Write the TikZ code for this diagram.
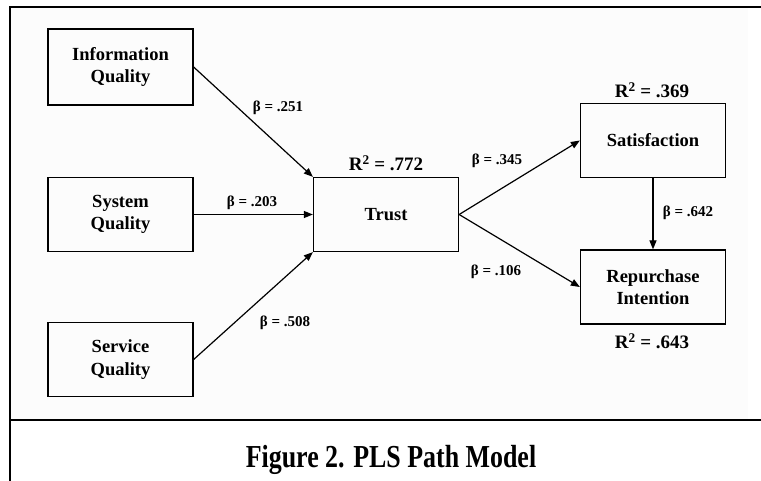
\documentclass[tikz,border=0pt]{standalone}
\usepackage{fontspec}
\setmainfont{Liberation Serif}
\usetikzlibrary{arrows.meta}
\begin{document}
\begin{tikzpicture}[x=1pt,y=-1pt,
  construct/.style={draw, line width=1.3pt, minimum width=145pt, minimum height=74pt,
    align=center, inner sep=0pt, font=\fontsize{18.5}{22.5}\selectfont\bfseries},
  pathline/.style={-{Triangle[length=9pt,width=7pt]}, line width=1.2pt},
  coef/.style={inner sep=0pt, font=\fontsize{15}{16}\selectfont\bfseries},
  rsq/.style={inner sep=0pt, font=\fontsize{19}{20}\selectfont\bfseries},
  frameline/.style={line width=2pt, line cap=rect}]
  \useasboundingbox (0,0) rectangle (761,480);
  % panel background and frame
  \fill[gray!2] (11,8) rectangle (748,419);
  \draw[frameline] (761,7) -- (10,7) -- (10,480);
  \draw[frameline] (10,420) -- (761,420);

  % constructs
  \node[construct, minimum height=76pt] (info) at (120.5,67) {Information\\Quality};
  \node[construct] (sys)  at (120.5,214.5) {System\\Quality};
  \node[construct] (serv) at (120.5,359.5) {Service\\Quality};
  \node[construct] (trust) at (386,214.5) {Trust};
  \node[construct] (sat) at (653,140.5) {Satisfaction};
  \node[construct] (rep) at (653,287) {Repurchase\\Intention};

  % structural paths
  \draw[pathline] (info.east) -- (trust.north west);
  \draw[pathline] (sys.east) -- (trust.west);
  \draw[pathline] (serv.east) -- (trust.south west);
  \draw[pathline] (trust.east) -- (sat.west);
  \draw[pathline] (trust.east) -- (rep.west);
  \draw[pathline] (sat.south) -- (rep.north);

  % path coefficients
  \node[coef] (b1) at (278,108) {β = .251};
  \node[coef] (b2) at (252,203) {β = .203};
  \node[coef] (b3) at (285,323) {β = .508};
  \node[coef] (b4) at (497,161) {β = .345};
  \node[coef] (b5) at (496,272) {β = .106};
  \node[coef] (b6) at (688,213) {β = .642};

  % explained variance
  \node[rsq] (r1) at (386,163) {R\textsuperscript{2} = .772};
  \node[rsq] (r2) at (652,90) {R\textsuperscript{2} = .369};
  \node[rsq] (r3) at (652,341) {R\textsuperscript{2} = .643};

  % caption
  \node[anchor=base, inner sep=0pt, font=\fontsize{32}{34}\selectfont\bfseries] (cap) at (391,467)
    {\scalebox{0.81}[1]{Figure 2. PLS Path Model}};
\end{tikzpicture}
\end{document}
